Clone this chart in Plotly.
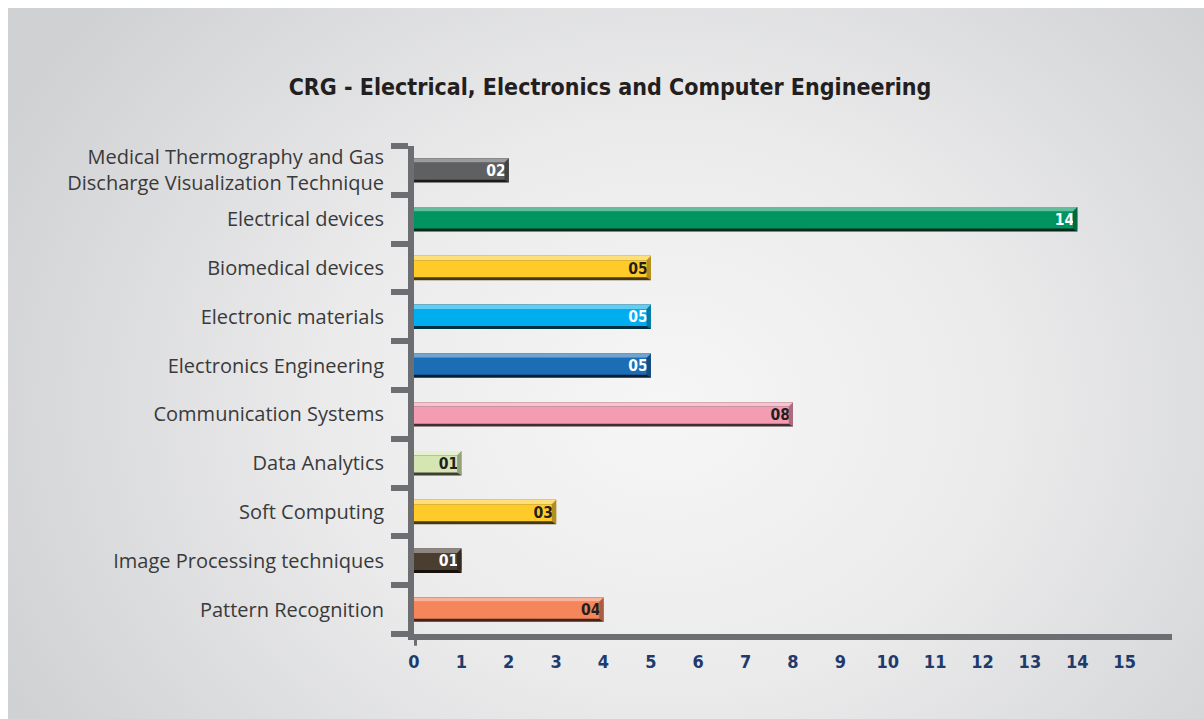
import base64
import plotly.graph_objects as go

# Research topics, listed from the bottom row to the top row
topics = [
    "Pattern Recognition",
    "Image Processing techniques",
    "Soft Computing",
    "Data Analytics",
    "Communication Systems",
    "Electronics Engineering",
    "Electronic materials",
    "Biomedical devices",
    "Electrical devices",
    "Medical Thermography and Gas<br>Discharge Visualization Technique",
]
counts = [4, 1, 3, 1, 8, 5, 5, 5, 14, 2]
bar_colors = ["#f5855a", "#4b3e30", "#ffcb29", "#d5e6b3", "#f49cb2",
              "#1b6db5", "#00adee", "#ffcb29", "#009460", "#5f6062"]
label_colors = ["#231f20", "#ffffff", "#231f20", "#231f20", "#231f20",
                "#ffffff", "#ffffff", "#231f20", "#ffffff", "#ffffff"]
x_ticks = list(range(0, 16))

TITLE = "CRG - Electrical, Electronics and Computer Engineering"
AXIS_GREY = "#6d6e71"
NARROW = "DejaVu Sans Condensed, DejaVu Sans, sans-serif"


def mix(hex_color, other, t):
    """Blend hex_color towards other (an rgb tuple) by fraction t."""
    h = hex_color.lstrip("#")
    r, g, b = (int(h[i:i + 2], 16) for i in (0, 2, 4))
    r = round(r + (other[0] - r) * t)
    g = round(g + (other[1] - g) * t)
    b = round(b + (other[2] - b) * t)
    return f"#{r:02x}{g:02x}{b:02x}"


shadow = [mix(c, (0, 0, 0), 0.72) for c in bar_colors]
highlight = [mix(c, (255, 255, 255), 0.38) for c in bar_colors]
bevel = [mix(c, (0, 0, 0), 0.3) for c in bar_colors]

fig = go.Figure()

# Bevelled bars: dark base, main face, light top strip, then a clear layer for the labels
layers = [
    (shadow, -0.25, 0.50),
    (bar_colors, -0.19, 0.35),
    (highlight, 0.16, 0.09),
]
for colors, off, wid in layers:
    fig.add_trace(go.Bar(
        x=counts, y=topics, orientation="h",
        marker=dict(color=colors, line=dict(width=0)),
        offset=off, width=wid, hoverinfo="skip", showlegend=False,
    ))

fig.add_trace(go.Bar(
    x=counts, y=topics, orientation="h",
    marker=dict(color="rgba(0,0,0,0)", line=dict(width=0)),
    offset=-0.25, width=0.5,
    text=[f"{v:02d}" for v in counts],
    textposition="inside", insidetextanchor="end", textangle=0,
    textfont=dict(family=NARROW, size=17, color=label_colors, weight="bold"),
    cliponaxis=False, showlegend=False,
    hovertemplate="%{y}: %{x}<extra></extra>",
))

# Angled right-hand end cap of each bar
cap = 0.09
shapes = []
for i, (v, c) in enumerate(zip(counts, bevel)):
    shapes.append(dict(
        type="path", xref="x", yref="y", layer="above", line=dict(width=0), fillcolor=c,
        path=(f"M {v - cap} {i - 0.19} L {v} {i - 0.25} L {v} {i + 0.25} "
              f"L {v - cap} {i + 0.16} Z"),
    ))

# Extension of the vertical axis below the horizontal axis
shapes.append(dict(type="line", xref="x", yref="paper", x0=0, x1=0, y0=-0.024, y1=0.0,
                   line=dict(color=AXIS_GREY, width=6)))

# Soft radial backdrop panel
svg = (
    '<svg xmlns="http://www.w3.org/2000/svg" width="1196" height="711" '
    'viewBox="0 0 1196 711" preserveAspectRatio="none">'
    '<defs><radialGradient id="g" cx="0.55" cy="0.56" r="0.62" '
    'gradientTransform="translate(0.55 0.56) scale(1 1.4) translate(-0.55 -0.56)">'
    '<stop offset="0" stop-color="#f6f6f6"/>'
    '<stop offset="0.45" stop-color="#ebebec"/>'
    '<stop offset="1" stop-color="#d0d1d3"/>'
    '</radialGradient></defs>'
    '<rect width="1196" height="711" fill="url(#g)"/></svg>'
)
svg_uri = "data:image/svg+xml;base64," + base64.b64encode(svg.encode()).decode()

W, H = 1204, 719
L, R, T, B = 414, 32, 146, 85
pw, ph = W - L - R, H - T - B

fig.update_layout(
    width=W, height=H,
    margin=dict(l=L, r=R, t=T, b=B, pad=0),
    paper_bgcolor="#ffffff",
    plot_bgcolor="rgba(0,0,0,0)",
    barmode="overlay",
    bargap=0.5,
    title=dict(
        text=TITLE, x=610 / W, xref="container", xanchor="center",
        y=1 - 87 / H, yref="container", yanchor="middle",
        font=dict(family=NARROW, size=23, color="#231f20", weight="bold"),
    ),
    xaxis=dict(
        range=[0, 16], tickvals=x_ticks, ticktext=[str(t) for t in x_ticks],
        showgrid=False, zeroline=False,
        showline=True, linewidth=6, linecolor=AXIS_GREY,
        ticks="outside", ticklen=6, tickcolor="rgba(0,0,0,0)",
        tickfont=dict(family=NARROW, size=18, color="#1f3a6b", weight="bold"),
        fixedrange=True,
    ),
    yaxis=dict(
        type="category", categoryorder="array", categoryarray=topics,
        showgrid=False, zeroline=False,
        showline=True, linewidth=6, linecolor=AXIS_GREY,
        ticks="outside", tickson="boundaries", ticklen=17, tickwidth=6,
        tickcolor=AXIS_GREY,
        tickfont=dict(family="Open Sans, sans-serif", size=20, color="#3a3a3a"),
        ticklabelstandoff=20,
        fixedrange=True,
    ),
    shapes=shapes,
    images=[dict(
        source=svg_uri, xref="paper", yref="paper",
        x=(8 - L) / pw, y=1 + (T - 8) / ph,
        sizex=(W - 8) / pw, sizey=(H - 8) / ph,
        sizing="stretch", xanchor="left", yanchor="top", layer="below",
    )],
)

fig.write_html("out.html")
